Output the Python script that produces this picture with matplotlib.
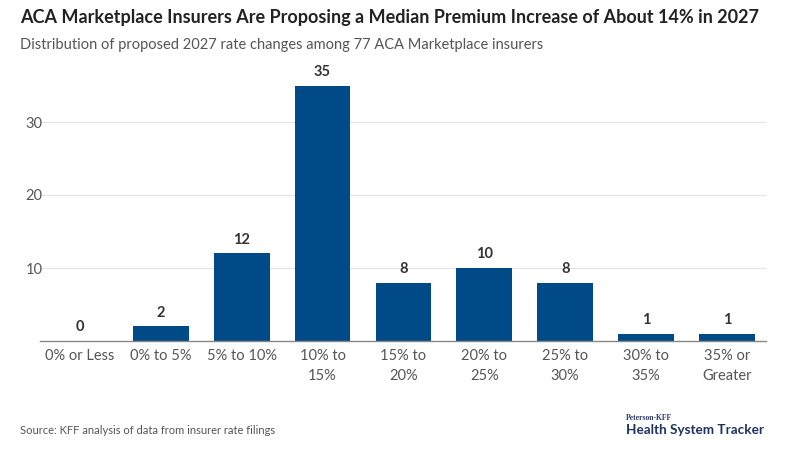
import matplotlib
matplotlib.use("Agg")
import matplotlib.pyplot as plt

categories = ["0% or Less", "0% to 5%", "5% to 10%", "10% to\n15%", "15% to\n20%",
              "20% to\n25%", "25% to\n30%", "30% to\n35%", "35% or\nGreater"]
counts = [0, 2, 12, 35, 8, 10, 8, 1, 1]
yticks = [10, 20, 30]

plt.rcParams['font.family'] = ['Lato', 'DejaVu Sans']

fig = plt.figure(figsize=(8.11, 4.67), dpi=100)
ax = fig.add_axes([39.5/811, (467-341)/467, 727/811, 36*7.3/467])

x = list(range(len(categories)))
ax.bar(x, counts, width=0.69, color="#004b87", zorder=3)
for xi, v in zip(x, counts):
    ax.text(xi, v + 0.9, str(v), ha="center", va="bottom", fontsize=10.5,
            fontweight="bold", color="#333333", clip_on=False)

ax.set_xlim(-0.5, 8.49)
ax.set_ylim(0, 36)
ax.set_yticks(yticks)
ax.set_yticklabels([str(t) for t in yticks])
ax.set_xticks(x)
ax.set_xticklabels(categories, fontsize=10.5, color="#555555", linespacing=1.5)
ax.tick_params(axis="y", length=0, pad=4, labelsize=10.5, labelcolor="#555555")
ax.tick_params(axis="x", length=0, pad=6)
ax.yaxis.set_tick_params(pad=-2)
ax.grid(axis="y", color="#e3e3e3", linewidth=0.8, zorder=0)
for s in ["top", "right", "left"]:
    ax.spines[s].set_visible(False)
ax.spines["bottom"].set_color("#888888")
ax.spines["bottom"].set_linewidth(1.0)
ax.spines["bottom"].set_zorder(4)

fig.text(20/811, 1 - 17/467, "ACA Marketplace Insurers Are Proposing a Median Premium Increase of About 14% in 2027",
         fontsize=13, fontweight="bold", color="#222222", va="center", ha="left")
fig.text(20/811, 1 - 45/467, "Distribution of proposed 2027 rate changes among 77 ACA Marketplace insurers",
         fontsize=10.5, color="#555555", va="center", ha="left")
fig.text(20/811, 1 - 430/467, "Source: KFF analysis of data from insurer rate filings",
         fontsize=8, color="#555555", va="center", ha="left")
fig.text(626/811, 1 - 418/467, "Peterson-KFF", fontsize=5.5, fontweight="bold",
         family=["Liberation Serif", "DejaVu Serif"], color="#2b3a67", va="center", ha="left")
fig.text(626/811, 1 - 430/467, "Health System Tracker", fontsize=9.7, fontweight="bold",
         color="#1f3264", va="center", ha="left")

fig.savefig("out.png", dpi=100)
